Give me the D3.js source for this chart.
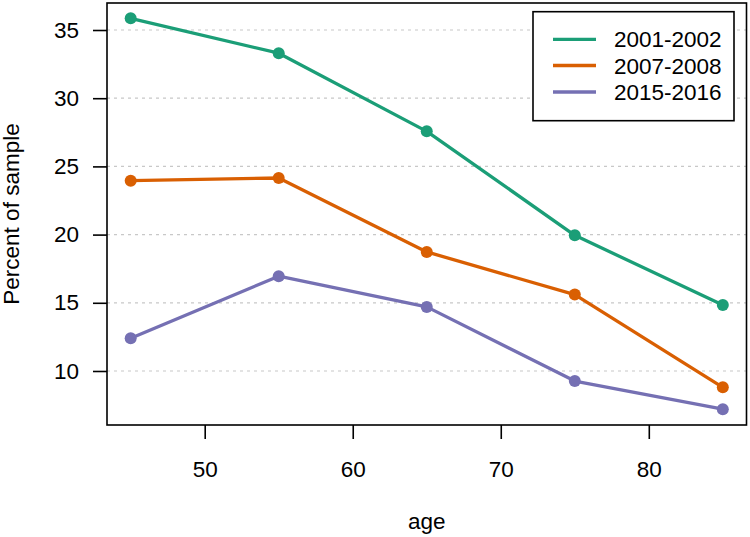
<!DOCTYPE html>
<html>
<head>
<meta charset="utf-8">
<script src="https://cdn.jsdelivr.net/npm/d3@7"></script>
<style>
  html, body { margin: 0; padding: 0; background: #fff; }
  svg { display: block; font-family: "Liberation Sans", Arial, sans-serif; }
</style>
</head>
<body>
<svg id="chart" width="750" height="537"></svg>
<script>
const ages = [45, 55, 65, 75, 85];
const seriesNames = ["2001-2002", "2007-2008", "2015-2016"];
const s2001 = [35.86, 33.3, 27.57, 19.95, 14.83];
const s2007 = [23.95, 24.15, 18.73, 15.6, 8.8];
const s2015 = [12.4, 16.95, 14.7, 9.26, 7.2];
const colors = ["#1B9E77", "#D95F02", "#7570B3"];
const xTicks = [50, 60, 70, 80];
const yTicks = [10, 15, 20, 25, 30, 35];

const seriesValues = [s2001, s2007, s2015];
const svg = d3.select("#chart");
const L = 107, R = 746.5, T = 3, B = 425;
const FS = "22.5px";
const x = d3.scaleLinear().domain([43.4, 86.6]).range([L, R]);
const y = d3.scaleLinear().domain([6.04, 36.98]).range([B, T]);

// grid
svg.append("g").selectAll("line").data(yTicks).join("line")
  .attr("x1", L).attr("x2", R)
  .attr("y1", d => y(d)).attr("y2", d => y(d))
  .attr("stroke", "#c8c8c8").attr("stroke-width", 1.2)
  .attr("stroke-dasharray", "3,4");

// axes
const yAxis = svg.append("g").attr("transform", `translate(${L},0)`)
  .call(d3.axisLeft(y).tickValues(yTicks).tickSize(14).tickPadding(14).tickFormat(d3.format("d")));
const xAxis = svg.append("g").attr("transform", `translate(0,${B})`)
  .call(d3.axisBottom(x).tickValues(xTicks).tickSize(14).tickPadding(22).tickFormat(d3.format("d")));
[yAxis, xAxis].forEach(g => {
  g.select(".domain").remove();
  g.selectAll(".tick line").attr("stroke", "#000").attr("stroke-width", 1.6);
  g.selectAll(".tick text").attr("fill", "#000").style("font-size", FS)
    .style("font-family", "'Liberation Sans', Arial, sans-serif");
});

// lines and points
const line = d3.line().x((d, i) => x(ages[i])).y(d => y(d));
seriesValues.forEach((vals, k) => {
  svg.append("path").datum(vals)
    .attr("d", line).attr("fill", "none")
    .attr("stroke", colors[k]).attr("stroke-width", 3.3)
    .attr("stroke-linejoin", "round");
  svg.append("g").selectAll("circle").data(vals).join("circle")
    .attr("cx", (d, i) => x(ages[i])).attr("cy", d => y(d))
    .attr("r", 6).attr("fill", colors[k]);
});

// frame
svg.append("rect").attr("x", L).attr("y", T).attr("width", R - L).attr("height", B - T)
  .attr("fill", "none").attr("stroke", "#000").attr("stroke-width", 1.6);

// axis titles
svg.append("text").attr("x", (L + R) / 2).attr("y", 529)
  .attr("text-anchor", "middle").style("font-size", FS).text("age");
svg.append("text").attr("transform", `translate(19,${(T + B) / 2}) rotate(-90)`)
  .attr("text-anchor", "middle").style("font-size", FS).text("Percent of sample");

// legend
const lg = svg.append("g");
lg.append("rect").attr("x", 533).attr("y", 11.7).attr("width", 201).attr("height", 109)
  .attr("fill", "#fff").attr("stroke", "#000").attr("stroke-width", 1.6);
const rowY = [39.3, 65.5, 92];
seriesNames.forEach((name, k) => {
  lg.append("line").attr("x1", 553).attr("x2", 596)
    .attr("y1", rowY[k]).attr("y2", rowY[k])
    .attr("stroke", colors[k]).attr("stroke-width", 3.3);
  lg.append("text").attr("x", 614).attr("y", rowY[k] + 8)
    .style("font-size", FS).text(name);
});
</script>
</body>
</html>
